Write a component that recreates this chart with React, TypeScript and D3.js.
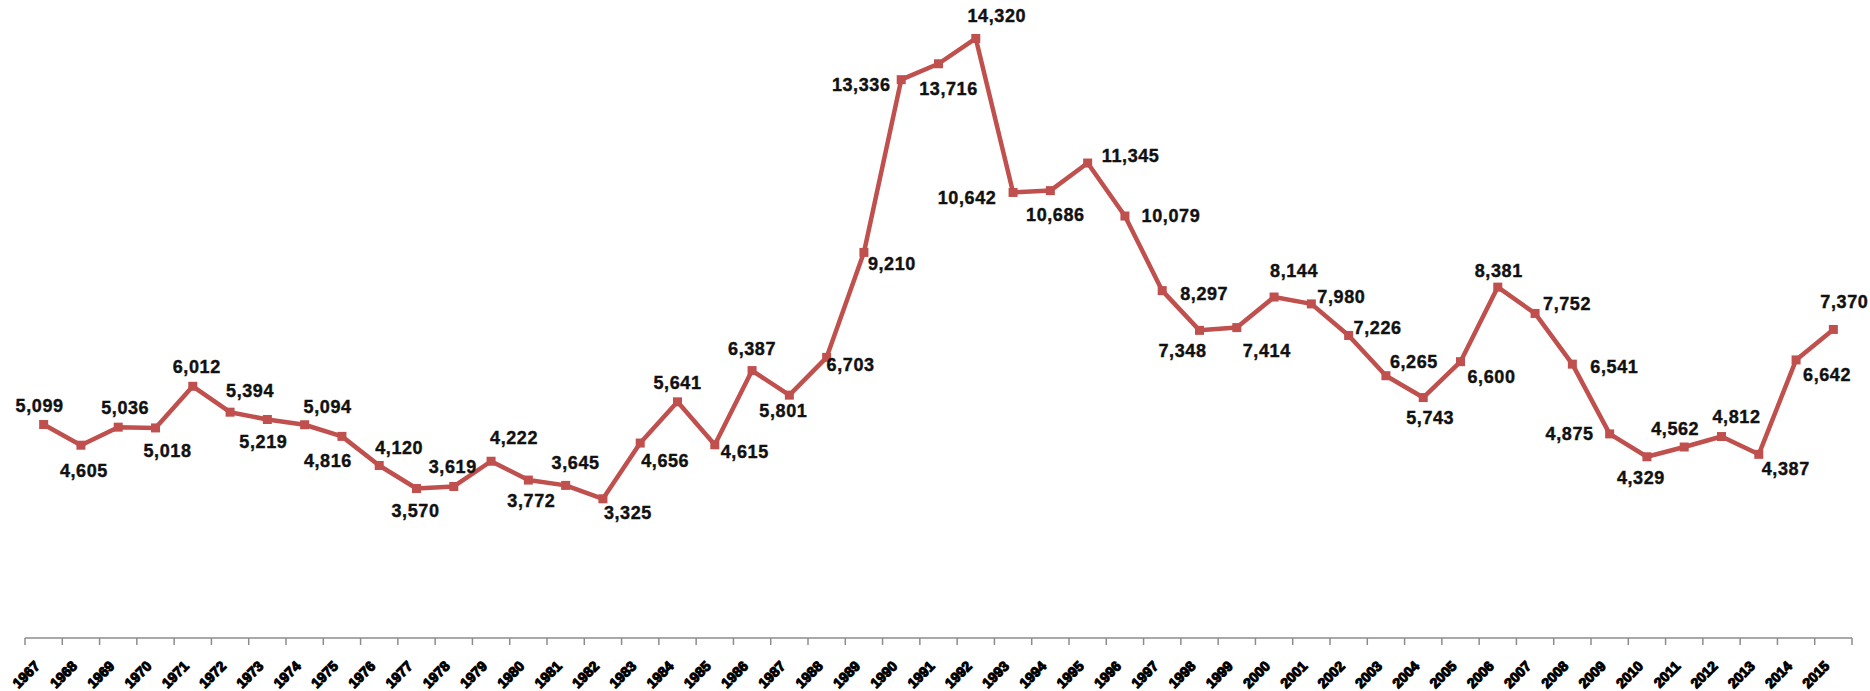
import * as d3 from 'd3'

// yearly values 1967-2015
const years: string[] = d3.range(1967, 2016).map(String)
const values: number[] = [
  5099, 4605, 5036, 5018, 6012, 5394, 5219, 5094, 4816, 4120,
  3570, 3619, 4222, 3772, 3645, 3325, 4656, 5641, 4615, 6387,
  5801, 6703, 9210, 13336, 13716, 14320, 10642, 10686, 11345, 10079,
  8297, 7348, 7414, 8144, 7980, 7226, 6265, 5743, 6600, 8381,
  7752, 6541, 4875, 4329, 4562, 4812, 4387, 6642, 7370,
]
const yDomain: [number, number] = [0, 15000]

// where each value label sits relative to its marker (label centre, px)
const labelOffsets: [number, number][] = [
  [-4, -19], [3, 26], [7, -19], [12, 23], [4, -19], [20, -21], [-4, 23], [23, -18], [-14, 25], [20, -18],
  [-1, 22], [-1, -19], [23, -23], [3, 21], [10, -22], [25, 14], [25, 18], [0, -19], [30, 7], [0, -22],
  [-6, 16], [24, 8], [28, 12], [-40, 5], [10, 25], [21, -22], [-46, 6], [5, 24], [43, -7], [46, 0],
  [42, 3], [-17, 21], [30, 23], [20, -26], [30, -7], [29, -7], [28, -14], [7, 20], [31, 15], [1, -16],
  [32, -9], [42, 3], [-40, 0], [-6, 21], [-9, -18], [15, -20], [27, 15], [31, 15], [11, -27],
]

const width = 1870
const height = 691
const axisLeft = 25
const axisRight = 1852
const axisY = 638
const plotTop = 10
const red = '#C0504D'

export default function App() {
  const x = d3.scaleBand<string>().domain(years).range([axisLeft, axisRight]).padding(0)
  const y = d3.scaleLinear().domain(yDomain).range([axisY, plotTop])
  const cx = (yr: string) => (x(yr) ?? 0) + x.bandwidth() / 2

  const pts = years.map((yr, i) => ({ yr, v: values[i], px: cx(yr), py: y(values[i]) }))
  const line = d3.line<typeof pts[number]>().x(d => d.px).y(d => d.py)
  const fmt = d3.format(',')

  const tickXs = years.map(yr => x(yr) ?? 0).concat([axisRight])

  return (
    <svg width={width} height={height} style={{ position: 'absolute', left: 0, top: 0, background: '#fff' }}
      fontFamily="'Liberation Sans', Arial, sans-serif">
      {/* x axis */}
      <line x1={axisLeft} x2={axisRight} y1={axisY} y2={axisY} stroke="#8c8c8c" strokeWidth={1.5} />
      {tickXs.map((tx, i) => (
        <line key={i} x1={tx} x2={tx} y1={axisY} y2={axisY + 7} stroke="#8c8c8c" strokeWidth={1.5} />
      ))}
      {years.map(yr => (
        <text key={yr} transform={`translate(${cx(yr) - 3},${axisY + 29}) rotate(-45)`}
          textAnchor="end" fontSize={14} fontWeight="bold" fill="#000" stroke="#000" strokeWidth={1.1}>
          {yr}
        </text>
      ))}

      {/* series */}
      <path d={line(pts) ?? ''} fill="none" stroke={red} strokeWidth={4.5} strokeLinejoin="round" />
      {pts.map(p => (
        <rect key={p.yr} x={p.px - 4.5} y={p.py - 4.5} width={9} height={9} fill={red} />
      ))}

      {/* value labels */}
      {pts.map((p, i) => (
        <text key={'l' + p.yr} x={p.px + labelOffsets[i][0]} y={p.py + labelOffsets[i][1]}
          textAnchor="middle" dominantBaseline="central" fontSize={18} fontWeight="bold"
          letterSpacing={0.6} fill="#111" stroke="#111" strokeWidth={0.4}>
          {fmt(p.v)}
        </text>
      ))}
    </svg>
  )
}
